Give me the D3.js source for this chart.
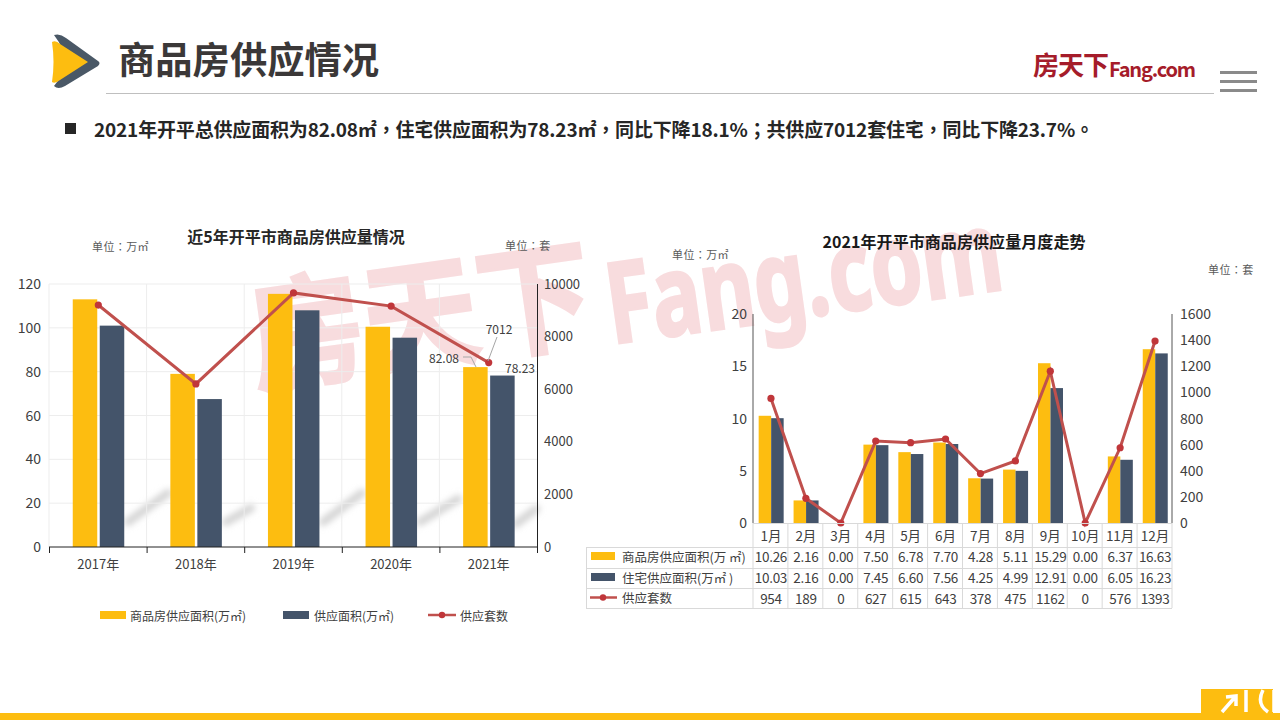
<!DOCTYPE html>
<html><head><meta charset="utf-8">
<script src="https://cdn.jsdelivr.net/npm/d3@7"></script>
<style>
html,body{margin:0;padding:0;background:#fff;overflow:hidden}
svg{display:block}
text{font-family:"Noto Sans CJK SC","Noto Sans",sans-serif}
</style></head><body><svg id="c" width="1280" height="720"></svg>
<script>
const years=["2017年","2018年","2019年","2020年","2021年"];
const yearCommercial=[113,79,115.5,100.5,82.08];
const yearSupply=[101,67.5,108,95.5,78.23];
const yearUnits=[9200,6200,9660,9160,7012];
const months=["1月","2月","3月","4月","5月","6月","7月","8月","9月","10月","11月","12月"];
const monthCommercial=[10.26,2.16,0,7.5,6.78,7.7,4.28,5.11,15.29,0,6.37,16.63];
const monthHousing=[10.03,2.16,0,7.45,6.6,7.56,4.25,4.99,12.91,0,6.05,16.23];
const monthUnits=[954,189,0,627,615,643,378,475,1162,0,576,1393];
const leftTicks1=[0,20,40,60,80,100,120], rightTicks1=[0,2000,4000,6000,8000,10000];
const leftTicks2=[0,5,10,15,20], rightTicks2=[0,200,400,600,800,1000,1200,1400,1600];
const YEL="#fdbd10",NAVY="#44546a",RED="#c0504d",DOT="#c0363a",INK="#404040";
const TC="'Noto Sans CJK TC','Noto Sans',sans-serif";
const svg=d3.select("#c");
const T=(x,y,s,o={})=>{const t=svg.append("text").attr("x",x).attr("y",y-1).text(s)
  .attr("font-size",o.size||12).attr("fill",o.fill||INK).attr("font-weight",o.weight||400)
  .attr("text-anchor",o.anchor||"start").attr("dominant-baseline","central")
  .attr("letter-spacing",o.ls||0);
  if(o.tc)t.style("font-family",TC);
  return t;};
const defs=svg.append("defs");
defs.append("filter").attr("id","blur").attr("x","-30%").attr("y","-30%").attr("width","160%").attr("height","160%")
  .append("feGaussianBlur").attr("stdDeviation",3);

// header
svg.append("path").attr("d","M54 35 Q60 33 66 38 L98 61 Q101 63 98 66 L65 86 Q58 90 54 86 Q75 62 54 35Z").attr("fill","#4a5866");
svg.append("path").attr("d","M52 42 Q56 40 60 44 L88 62 L60 80 Q55 84 52 82 Q55 62 52 42Z").attr("fill",YEL);
T(118,58.5,"商品房供应情况",{size:37.3,weight:700,fill:"#3b3838"});
svg.append("line").attr("x1",106).attr("x2",1214).attr("y1",93.5).attr("y2",93.5).attr("stroke","#bfbfbf");
T(1033,64,"房天下",{size:26,weight:700,fill:"#a51c2a",ls:-1});
T(1109,69,"Fang.com",{size:20,weight:700,fill:"#a51c2a",ls:-1.2});
[72,81,90].forEach(y=>svg.append("rect").attr("x",1220).attr("y",y-1).attr("width",37).attr("height",3).attr("fill","#8a8a8a"));
svg.append("rect").attr("x",65).attr("y",123).attr("width",11).attr("height",11).attr("fill","#262626");
T(94,129,"2021年开平总供应面积为82.08㎡，住宅供应面积为78.23㎡，同比下降18.1%；共供应7012套住宅，同比下降23.7%。",{size:19,weight:700,fill:"#262626",ls:-0.17,tc:true});

// footer
svg.append("rect").attr("x",0).attr("y",713).attr("width",1280).attr("height",7).attr("fill",YEL);
svg.append("rect").attr("x",1201).attr("y",689).attr("width",72).attr("height",25).attr("fill",YEL);
svg.append("path").attr("d","M1222 712 L1236 696 M1226 697 L1236 696 L1236 706 M1246 690 V712 M1263 690 Q1256 704 1268 712 M1274 690 V712")
  .attr("stroke","#fff").attr("stroke-width",3.5).attr("fill","none");

// big pink watermark (behind everything)
const wm=svg.append("g").attr("transform","translate(256,384) rotate(-8)").attr("fill","#f8dcde").attr("stroke","#f8dcde").attr("stroke-width",3);
wm.append("text").attr("x",0).attr("y",0).text("房天下").attr("font-size",122).attr("font-weight",700)
  .attr("textLength",345).attr("lengthAdjust","spacingAndGlyphs");
wm.append("text").attr("x",358).attr("y",10).text("Fang.com").attr("font-size",112).attr("font-weight",700)
  .attr("textLength",398).attr("lengthAdjust","spacingAndGlyphs").style("font-family","'Noto Sans',sans-serif");

function combo(o){
  const x=d3.scaleBand().domain(o.cats).range([o.left,o.right]);
  const yL=d3.scaleLinear().domain(o.dL).range([o.bottom,o.top]);
  const yR=d3.scaleLinear().domain(o.dR).range([o.bottom,o.top]);
  const g=svg.append("g");
  const draw=(vals,col,off)=>g.selectAll(null).data(vals).join("rect")
    .attr("x",(d,i)=>x(o.cats[i])+x.bandwidth()/2+off+.7).attr("width",o.bw)
    .attr("y",d=>yL(d)).attr("height",d=>o.bottom-yL(d)).attr("fill",col);
  draw(o.a,YEL,-o.bw-o.gap/2); draw(o.b,NAVY,o.gap/2);
  return {x,yL,yR,g,line(vals){
    const cx=(d,i)=>x(o.cats[i])+x.bandwidth()/2+.5;
    g.append("path").datum(vals).attr("fill","none").attr("stroke",RED).attr("stroke-width",3)
      .attr("d",d3.line().x(cx).y(d=>yR(d)));
    g.selectAll(null).data(vals).join("circle").attr("cx",cx).attr("cy",d=>yR(d)).attr("r",3.6).attr("fill",DOT);
  }};
}

// chart 1 background
const c1={left:49,right:537,top:284,bottom:547};
const gx1=d3.scaleBand().domain(years).range([c1.left,c1.right]);
const gy1=d3.scaleLinear().domain([0,120]).range([c1.bottom,c1.top]);
// grey streaks
const streaks=svg.append("g").attr("filter","url(#blur)").attr("stroke","#d4d4d4").attr("stroke-width",8).attr("stroke-linecap","round");
[[128,522,168,493],[226,522,251,508],[323,522,362,493],[420,522,458,499],[516,524,536,509]].forEach(s=>
  streaks.append("line").attr("x1",s[0]).attr("y1",s[1]).attr("x2",s[2]).attr("y2",s[3]));
svg.append("g").selectAll("line").data(leftTicks1.slice(1)).join("line")
  .attr("x1",c1.left).attr("x2",c1.right).attr("y1",d=>gy1(d)).attr("y2",d=>gy1(d)).attr("stroke","#ededed");
svg.append("g").selectAll("line").data(years).join("line")
  .attr("x1",d=>gx1(d)).attr("x2",d=>gx1(d)).attr("y1",c1.top).attr("y2",c1.bottom).attr("stroke","#ededed");

const a=combo({cats:years,left:c1.left,right:c1.right,top:c1.top,bottom:c1.bottom,dL:[0,120],dR:[0,10000],a:yearCommercial,b:yearSupply,bw:24.5,gap:2.5});
a.line(yearUnits);

// chart 1 axes
svg.append("line").attr("x1",c1.left).attr("x2",c1.right).attr("y1",c1.bottom).attr("y2",c1.bottom).attr("stroke","#222");
svg.append("line").attr("x1",c1.right+.5).attr("x2",c1.right+.5).attr("y1",c1.top).attr("y2",c1.bottom).attr("stroke","#222");
[...years.map(d=>gx1(d)),c1.right].forEach(v=>svg.append("line").attr("x1",v+.5).attr("x2",v+.5).attr("y1",c1.bottom).attr("y2",c1.bottom+6).attr("stroke","#222"));
leftTicks1.forEach(d=>T(41,a.yL(d),d,{size:14,anchor:"end"}));
rightTicks1.forEach(d=>T(544,a.yR(d),d,{size:13}));
years.forEach(d=>T(a.x(d)+a.x.bandwidth()/2+.5,564,d,{size:13,anchor:"middle"}));
T(296,237,"近5年开平市商品房供应量情况",{size:16,weight:700,anchor:"middle",fill:"#262626"});
T(92,247,"单位：万㎡",{size:11,fill:"#595959",tc:true,ls:.4});
T(505,246,"单位：套",{size:11,fill:"#595959",tc:true,ls:.4});
// callouts
T(444,358,yearCommercial[4],{size:12,anchor:"middle"});
T(499,329,yearUnits[4],{size:12,anchor:"middle"});
T(520,368,yearSupply[4],{size:12,anchor:"middle"});
svg.append("path").attr("d","M463 357 H471 L476 367 M488 361 L497 337").attr("fill","none").attr("stroke","#a6a6a6");
// chart 1 legend
svg.append("rect").attr("x",100).attr("y",611).attr("width",26).attr("height",8).attr("fill",YEL);
T(130,616,"商品房供应面积(万㎡)",{size:12});
svg.append("rect").attr("x",283).attr("y",611).attr("width",26).attr("height",8).attr("fill",NAVY);
T(314,616,"供应面积(万㎡)",{size:12});
svg.append("line").attr("x1",428).attr("x2",456).attr("y1",615).attr("y2",615).attr("stroke",RED).attr("stroke-width",2.5);
svg.append("circle").attr("cx",442).attr("cy",615).attr("r",3.2).attr("fill",DOT);
T(460,616,"供应套数",{size:12});

// chart 2
const c2={left:753,right:1172,top:314,bottom:523};
const b=combo({cats:months,left:c2.left,right:c2.right,top:c2.top,bottom:c2.bottom,dL:[0,20],dR:[0,1600],a:monthCommercial,b:monthHousing,bw:12.5,gap:0});
b.line(monthUnits);
svg.append("line").attr("x1",c2.left).attr("x2",c2.left).attr("y1",c2.top).attr("y2",c2.bottom).attr("stroke","#555");
svg.append("line").attr("x1",c2.right).attr("x2",c2.right).attr("y1",c2.top).attr("y2",c2.bottom).attr("stroke","#555");
leftTicks2.forEach(d=>T(747,b.yL(d),d,{size:14,anchor:"end"}));
rightTicks2.forEach(d=>T(1180,b.yR(d),d,{size:14}));
T(954,242,"2021年开平市商品房供应量月度走势",{size:16,weight:700,anchor:"middle",fill:"#1a1a1a",ls:.08});
T(672,255,"单位：万㎡",{size:11,fill:"#595959",tc:true,ls:.4});
T(1208,270,"单位：套",{size:11,fill:"#595959",tc:true,ls:.4});

// data table
const rowsY=[523,547,568,588,608], tblLeft=586;
const tb=svg.append("g").attr("stroke","#d9d9d9").attr("fill","none");
rowsY.forEach((y,i)=>tb.append("line").attr("x1",i?tblLeft:c2.left).attr("x2",c2.right).attr("y1",y+.5).attr("y2",y+.5));
tb.append("line").attr("x1",tblLeft+.5).attr("x2",tblLeft+.5).attr("y1",547).attr("y2",608);
[...months.map(m=>b.x(m)),c2.right].forEach(v=>tb.append("line").attr("x1",v).attr("x2",v).attr("y1",523).attr("y2",608));
months.forEach((m,i)=>{
  const cx=b.x(m)+b.x.bandwidth()/2+.5;
  T(cx,535.5,m,{size:13.5,anchor:"middle"});
  T(cx,557,monthCommercial[i].toFixed(2),{size:13.5,anchor:"middle",ls:-.3});
  T(cx,578,monthHousing[i].toFixed(2),{size:13.5,anchor:"middle",ls:-.3});
  T(cx,598.5,monthUnits[i],{size:13.5,anchor:"middle",ls:-.3});
});
svg.append("rect").attr("x",591).attr("y",552).attr("width",24).attr("height",8).attr("fill",YEL);
T(622,557,"商品房供应面积(万 ㎡)",{size:12.5});
svg.append("rect").attr("x",591).attr("y",573).attr("width",24).attr("height",8).attr("fill",NAVY);
T(622,578,"住宅供应面积(万㎡ )",{size:12.5});
svg.append("line").attr("x1",590).attr("x2",617).attr("y1",597.5).attr("y2",597.5).attr("stroke",RED).attr("stroke-width",2.5);
svg.append("circle").attr("cx",603).attr("cy",597.5).attr("r",3.2).attr("fill",DOT);
T(622,598.5,"供应套数",{size:12.5});
</script></body></html>
